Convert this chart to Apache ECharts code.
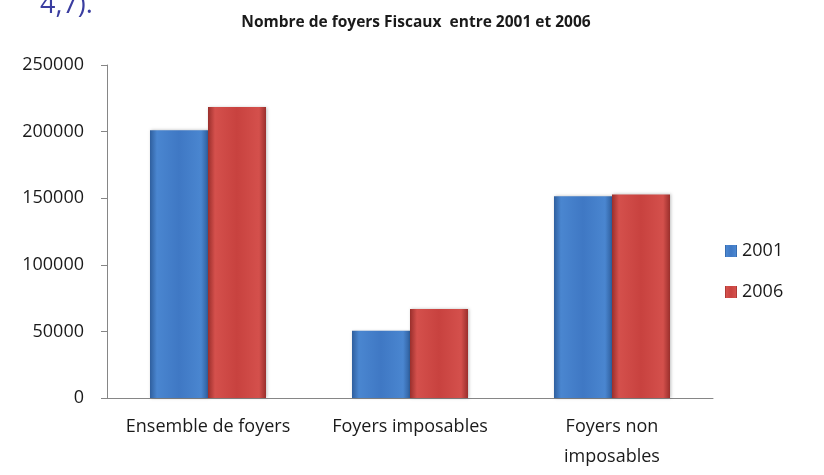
<!DOCTYPE html>
<html>
<head>
<meta charset="utf-8">
<script src="https://cdn.jsdelivr.net/npm/echarts@6/dist/echarts.min.js"></script>
<style>
  html, body { margin: 0; padding: 0; background: #fff; }
  #chart { width: 824px; height: 475px; }
</style>
</head>
<body>
<div id="chart"></div>
<script>
const categories = ["Ensemble de foyers", "Foyers imposables", "Foyers non\nimposables"];
const years = ["2001", "2006"];
const values2001 = [201000, 50500, 151500];
const values2006 = [218500, 66800, 152800];
const yTicks = [0, 50000, 100000, 150000, 200000, 250000];

const chart = echarts.init(document.getElementById("chart"));

// dégradé horizontal pour imiter le relief des barres Excel
function bevel(dark, light, mid) {
  return new echarts.graphic.LinearGradient(0, 0, 1, 0, [
    { offset: 0, color: dark },
    { offset: 0.12, color: light },
    { offset: 0.5, color: mid },
    { offset: 0.88, color: light },
    { offset: 1, color: dark },
  ]);
}

const font = "'Open Sans', 'Noto Sans', sans-serif";

chart.setOption({
  animation: false,
  title: {
    text: "Nombre de foyers Fiscaux  entre 2001 et 2006",
    left: 411,
    textAlign: "center",
    top: 10,
    textStyle: { fontFamily: font, fontSize: 15.5, fontWeight: "bold", color: "#1a1a1a" },
  },
  graphic: [
    {
      type: "text",
      left: 40,
      top: -8,
      style: { text: "4,7).", font: "27px " + font, fill: "#3a3da0" },
    },
  ],
  legend: {
    orient: "vertical",
    left: 720,
    top: 237,
    itemWidth: 12,
    itemHeight: 12,
    itemGap: 23,
    icon: "rect",
    data: years,
    textStyle: { fontFamily: font, fontSize: 18, color: "#1a1a1a" },
  },
  grid: { left: 107, right: 111, top: 65, bottom: 77 },
  xAxis: {
    type: "category",
    data: categories,
    axisLine: { lineStyle: { color: "#868686" } },
    axisTick: { length: 7, lineStyle: { color: "#868686" } },
    axisLabel: {
      interval: 0,
      margin: 14,
      lineHeight: 30,
      fontFamily: font,
      fontSize: 18,
      color: "#1a1a1a",
    },
  },
  yAxis: {
    type: "value",
    min: 0,
    max: 250000,
    interval: 50000,
    axisLine: { show: true, lineStyle: { color: "#868686" } },
    axisTick: { show: true, length: 6, lineStyle: { color: "#868686" } },
    splitLine: { show: false },
    axisLabel: {
      margin: 23,
      fontFamily: font,
      fontSize: 18,
      color: "#1a1a1a",
      formatter: (v) => (yTicks.includes(v) ? String(v) : ""),
    },
  },
  series: [
    {
      name: years[0],
      type: "bar",
      data: values2001,
      barWidth: 58,
      barGap: "0%",
      itemStyle: {
        color: bevel("#2f5f9e", "#4a86d0", "#3f78c4"),
        shadowColor: "rgba(0,0,0,0.25)",
        shadowBlur: 3,
        shadowOffsetX: 1,
      },
    },
    {
      name: years[1],
      type: "bar",
      data: values2006,
      barWidth: 58,
      itemStyle: {
        color: bevel("#9a2f2c", "#d4504c", "#c8423f"),
        shadowColor: "rgba(0,0,0,0.25)",
        shadowBlur: 3,
        shadowOffsetX: 1,
      },
    },
  ],
});
</script>
</body>
</html>
